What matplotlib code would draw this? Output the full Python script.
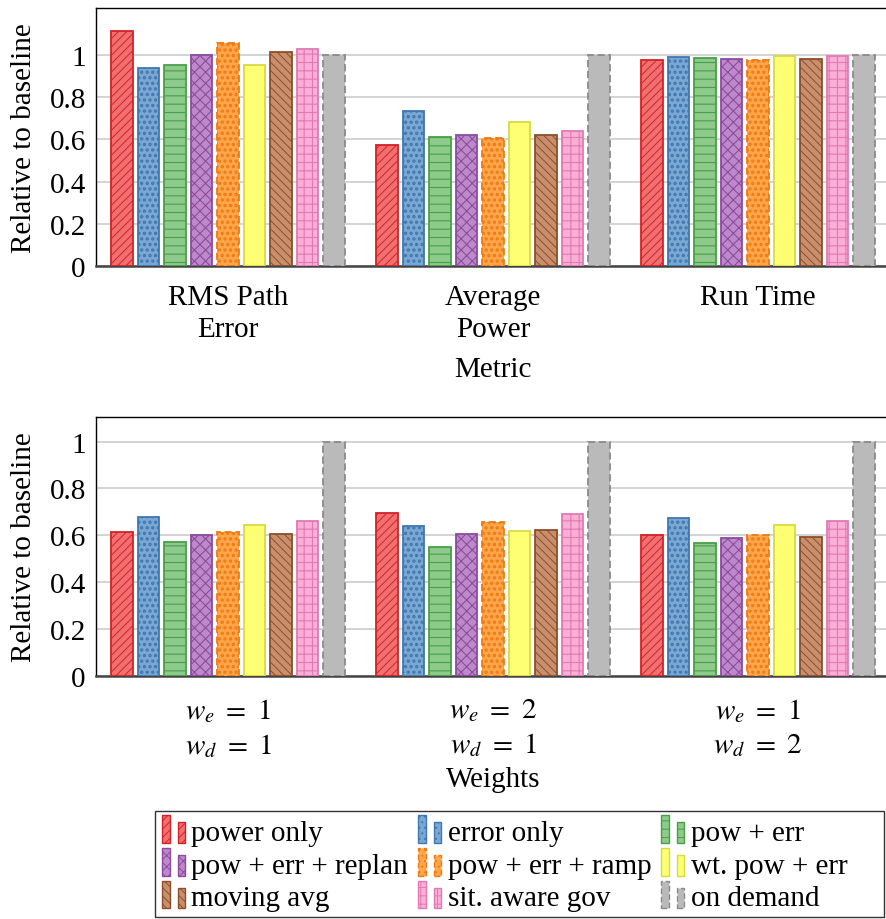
import matplotlib
matplotlib.use("Agg")
import matplotlib.pyplot as plt
from matplotlib.patches import Rectangle
from matplotlib.legend_handler import HandlerBase
import numpy as np

plt.rcParams["font.family"] = ["Liberation Serif", "DejaVu Serif"]
plt.rcParams["mathtext.fontset"] = "stix"
plt.rcParams["hatch.linewidth"] = 0.7

# ---- data ----
series_names = ["power only", "error only", "pow + err", "pow + err + replan",
                "pow + err + ramp", "wt. pow + err", "moving avg",
                "sit. aware gov", "on demand"]

metric_labels = ["RMS Path\nError", "Average\nPower", "Run Time"]
rms_path_error = [1.114, 0.940, 0.954, 1.000, 1.058, 0.953, 1.013, 1.030, 1.000]
average_power = [0.574, 0.737, 0.614, 0.620, 0.609, 0.684, 0.620, 0.639, 1.000]
run_time = [0.978, 0.989, 0.987, 0.983, 0.978, 0.994, 0.981, 0.997, 1.000]

weight_labels = [r"$w_e\ =\ 1$" + "\n" + r"$w_d\ =\ 1$",
                 r"$w_e\ =\ 2$" + "\n" + r"$w_d\ =\ 1$",
                 r"$w_e\ =\ 1$" + "\n" + r"$w_d\ =\ 2$"]
w_e1_d1 = [0.614, 0.678, 0.571, 0.600, 0.614, 0.645, 0.604, 0.661, 1.000]
w_e2_d1 = [0.696, 0.639, 0.551, 0.604, 0.658, 0.618, 0.621, 0.689, 1.000]
w_e1_d2 = [0.603, 0.673, 0.567, 0.590, 0.601, 0.644, 0.594, 0.662, 1.000]

# ---- styles ----
face_colors = ["#f07072", "#7ba7d3", "#8dca8b", "#bd8ac9", "#ffa54c",
               "#ffff73", "#c98f6c", "#fbaed6", "#bababa"]
edge_colors = ["#d42126", "#3f77b0", "#47a046", "#8e4aa0", "#ee7b10",
               "#d9d945", "#8c4e2a", "#e07ab4", "#8a8a8a"]
hatches = ["////", "...", "--", "xxx", "...", "", "\\\\\\\\", "++", ""]
hatch_lws = [0.7, 1.6, 0.8, 0.8, 1.6, 0.7, 0.7, 0.8, 0.7]
line_styles = ["-", "-", "-", "-", (0, (4, 2)), "-", "-", "-", (0, (4, 2))]

FS = 21

fig = plt.figure(figsize=(8.86, 9.2), dpi=100)
W, H = 886.0, 920.0
x_left, x_right = 95.5, 890.5
ax1 = fig.add_axes([x_left / W, 1 - 267.0 / H, (x_right - x_left) / W, (267.0 - 8.7) / H])
ax2 = fig.add_axes([x_left / W, 1 - 676.7 / H, (x_right - x_left) / W, (676.7 - 418.0) / H])


def set_hlw(p, lw):
    if hasattr(p, "set_hatch_linewidth"):
        try:
            p.set_hatch_linewidth(lw)
        except Exception:
            pass


def draw(ax, groups, labels, xlabel, ymax, xpad, labelpad):
    n = len(series_names)
    x = np.arange(len(labels))
    for i in range(n):
        vals = [g[i] for g in groups]
        bars = ax.bar(x + (i - (n - 1) / 2) * 0.1, vals, width=0.081,
                      facecolor=face_colors[i], edgecolor=edge_colors[i],
                      hatch=hatches[i], linestyle=line_styles[i], linewidth=1.3,
                      zorder=3)
        for b in bars:
            set_hlw(b, hatch_lws[i])
    ax.set_xlim(-0.5, 2.5)
    ax.set_ylim(0, ymax)
    ax.set_yticks([0, 0.2, 0.4, 0.6, 0.8, 1.0])
    ax.set_yticklabels(["0", "0.2", "0.4", "0.6", "0.8", "1"])
    ax.set_xticks(x)
    ax.set_xticklabels(labels, linespacing=1.3)
    ax.tick_params(axis="both", length=0, labelsize=FS)
    ax.tick_params(axis="y", pad=7)
    ax.tick_params(axis="x", pad=xpad)
    ax.yaxis.grid(True, color="#cccccc", linewidth=1.2, zorder=0)
    ax.set_axisbelow(True)
    ax.set_ylabel("Relative to baseline", fontsize=FS)
    ax.yaxis.set_label_coords(-0.073, 0.5)
    ax.set_xlabel(xlabel, fontsize=FS, labelpad=labelpad)
    for s in ["left", "top", "right"]:
        ax.spines[s].set_color("black")
        ax.spines[s].set_linewidth(1.0)
    ax.spines["bottom"].set_color("#444444")
    ax.spines["bottom"].set_linewidth(1.8)


draw(ax1, [rms_path_error, average_power, run_time], metric_labels, "Metric", 1.225, 13, 10)
draw(ax2, [w_e1_d1, w_e2_d1, w_e1_d2], weight_labels, "Weights", 1.105, 15, 5)


class TwoBarHandler(HandlerBase):
    def create_artists(self, legend, orig_handle, xdescent, ydescent,
                       width, height, fontsize, trans):
        arts = []
        bw = width * 0.3
        specs = [(0.0, 1.35), (width * 0.62, 1.0)]
        for x0, hf in specs:
            r = Rectangle((x0 - xdescent, -ydescent - height * 0.15), bw, height * hf,
                          facecolor=orig_handle.get_facecolor(),
                          edgecolor=orig_handle.get_edgecolor(),
                          hatch=orig_handle.get_hatch(),
                          linestyle=orig_handle.get_linestyle(),
                          linewidth=1.0, transform=trans)
            arts.append(r)
        return arts


proxies = [Rectangle((0, 0), 1, 1, facecolor=face_colors[i], edgecolor=edge_colors[i],
                     hatch=hatches[i], linestyle=line_styles[i])
           for i in range(len(series_names))]
# row-major ordering for a 3-column legend
order = [0, 3, 6, 1, 4, 7, 2, 5, 8]
handler = TwoBarHandler()
leg = fig.legend([proxies[k] for k in order], [series_names[k] for k in order],
                 ncol=3, loc="upper left",
                 bbox_to_anchor=(155.0 / W, 1 - 813.0 / H),
                 fontsize=FS, frameon=False,
                 handler_map={Rectangle: handler},
                 handlelength=0.85, handleheight=0.7, handletextpad=0.15,
                 labelspacing=0.22, columnspacing=0.35, borderpad=0.25,
                 borderaxespad=0)

# legend frame (wider than the entries, as in the original)
frame = Rectangle((155.0 / W, 1 - 918.0 / H), (884.0 - 155.0) / W, (918.0 - 812.0) / H,
                  transform=fig.transFigure, facecolor="white", edgecolor="#333333",
                  linewidth=1.0, zorder=-1)
fig.patches.append(frame)

fig.savefig("out.png", dpi=100)
